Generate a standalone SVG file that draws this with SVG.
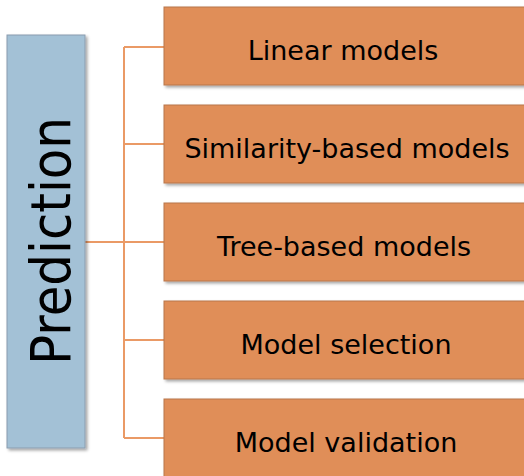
<svg xmlns="http://www.w3.org/2000/svg" width="524" height="476" viewBox="0 0 524 476">
<defs>
<filter id="sh" x="-10%" y="-10%" width="130%" height="130%">
<feDropShadow dx="2" dy="2" stdDeviation="1.5" flood-color="#000" flood-opacity="0.35"/>
</filter>
</defs>
<style>
.box{fill:#E08E58;stroke:#B8764A;stroke-width:1;filter:url(#sh)}
.lbl{font-family:"DejaVu Sans",sans-serif;font-size:27px;fill:#000;text-anchor:middle}
.con{stroke:#EA9A66;stroke-width:2;fill:none}
</style>
<g id="connectors">
<path class="con" d="M85 242H124M124 47V438M124 47H164M124 144H164M124 242H164M124 340H164M124 438H164"/>
</g>
<g id="prediction">
<rect x="7" y="35" width="78" height="413" fill="#A3C1D6" stroke="#8A9CAE" stroke-width="1" filter="url(#sh)"/>
<text transform="translate(70,365) rotate(-90)" font-family="DejaVu Sans,sans-serif" font-size="56" textLength="248" lengthAdjust="spacingAndGlyphs" fill="#000">Prediction</text>
</g>
<g id="n1"><rect class="box" x="164" y="7" width="370" height="78"/><text class="lbl" x="343" y="60">Linear models</text></g>
<g id="n2"><rect class="box" x="164" y="105" width="370" height="78"/><text class="lbl" x="347" y="158">Similarity-based models</text></g>
<g id="n3"><rect class="box" x="164" y="203" width="370" height="78"/><text class="lbl" x="344" y="256">Tree-based models</text></g>
<g id="n4"><rect class="box" x="164" y="301" width="370" height="78"/><text class="lbl" x="346" y="354">Model selection</text></g>
<g id="n5"><rect class="box" x="164" y="399" width="370" height="78"/><text class="lbl" x="346" y="452">Model validation</text></g>
</svg>
